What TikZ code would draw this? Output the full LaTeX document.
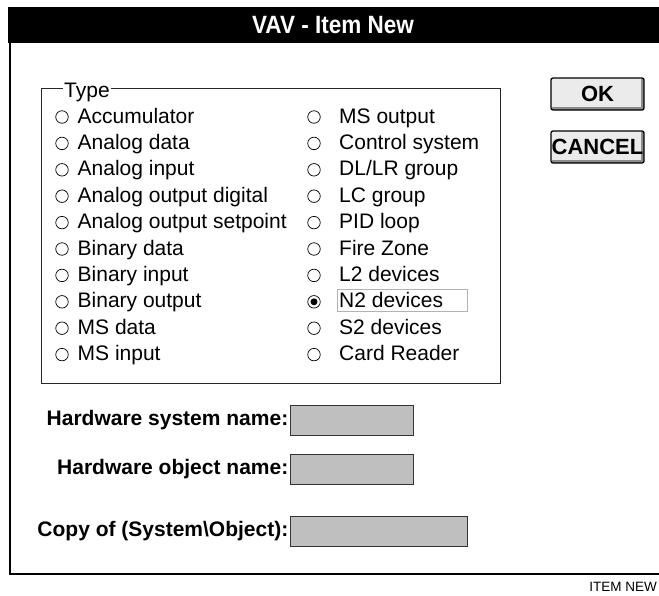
\documentclass[tikz,border=0pt]{standalone}
\usepackage{fontspec}
\setmainfont{Liberation Sans}
\newfontfamily\titlefont[FakeStretch=0.9]{Liberation Sans}
\usetikzlibrary{positioning}
\tikzset{
  radio/.style={circle, draw, line width=0.7pt, minimum size=12.5pt, inner sep=0pt},
  chosen/.style={radio, path picture={\fill (path picture bounding box.center) circle (3.5pt);}},
  entry/.style={anchor=base west, inner sep=0pt, font=\fontsize{21}{25}\selectfont},
  hwlabel/.style={inner sep=0pt, font=\fontsize{21}{25}\selectfont\bfseries},
  hwfield/.style={draw=black!80, line width=1pt, fill=black!25, minimum width=#1, minimum height=30pt, inner sep=0pt},
  button/.style={draw, line width=1.3pt, rounded corners=2pt, fill=black!8,
    minimum width=93pt, minimum height=32pt, inner sep=0pt,
    font=\fontsize{22}{26}\selectfont\bfseries,
    path picture={
      \fill[black!45] (path picture bounding box.south west) rectangle ([yshift=3pt]path picture bounding box.south east);
      \fill[black!45] ([xshift=-3pt]path picture bounding box.south east) rectangle (path picture bounding box.north east);}}
}
\begin{document}
\begin{tikzpicture}[x=1pt, y=-1pt]
\useasboundingbox (0,0) rectangle (659,595);
% window frame and title bar
\fill (8,7) rectangle (659,43);
\node[text=white, font=\titlefont\fontsize{25}{30}\selectfont\bfseries] (title) at (333,25) {VAV - Item New};
\draw[line width=2pt] (10,43) -- (10,574) -- (659,574);
% type group
\draw[black!85, line width=1pt] (41,88) rectangle (500,383);
\node[entry, fill=white, inner xsep=1pt] (typelabel) at (63,97) {Type};
\foreach \i/\name in {0/Accumulator, 1/Analog data, 2/Analog input, 3/Analog output digital,
    4/Analog output setpoint, 5/Binary data, 6/Binary input, 7/Binary output, 8/MS data, 9/MS input}
   {\node[radio] (lb\i) at (62, {117+26.4*\i}) {};
    \node[entry] (lt\i) at (77.5, {123+26.4*\i}) {\name};}
\foreach \i/\kind/\name in {0/radio/MS output, 1/radio/Control system, 2/radio/{DL/LR group},
    3/radio/LC group, 4/radio/PID loop, 5/radio/Fire Zone, 6/radio/L2 devices,
    7/chosen/N2 devices, 8/radio/S2 devices, 9/radio/Card Reader}
   {\node[\kind] (rb\i) at (314, {117+26.4*\i}) {};
    \node[entry] (rt\i) at (339, {123+26.4*\i}) {\name};}
\draw[black!30, line width=0.8pt] (rt7.base west) ++(-2,-18) rectangle ++(130,22);
% buttons
\node[button] (okbtn) at (597.5,94) {OK};
\node[button] (cancelbtn) at (597.5,147) {CANCEL};
% hardware fields
\node[hwfield=123pt] (sysfield) at (351.5,420) {};
\node[hwlabel, left=1pt of sysfield] (sysname) {Hardware system name:};
\node[hwfield=123pt] (objfield) at (351.5,469) {};
\node[hwlabel, left=1pt of objfield] (objname) {Hardware object name:};
\node[hwfield=177pt] (copyfield) at (378.5,531) {};
\node[hwlabel, left=1pt of copyfield] (copyname) {Copy of (System\textbackslash Object):};
\node[anchor=base east, inner sep=0pt, font=\fontsize{13.5}{16}\selectfont] (caption) at (657,591) {ITEM NEW};
\end{tikzpicture}
\end{document}
